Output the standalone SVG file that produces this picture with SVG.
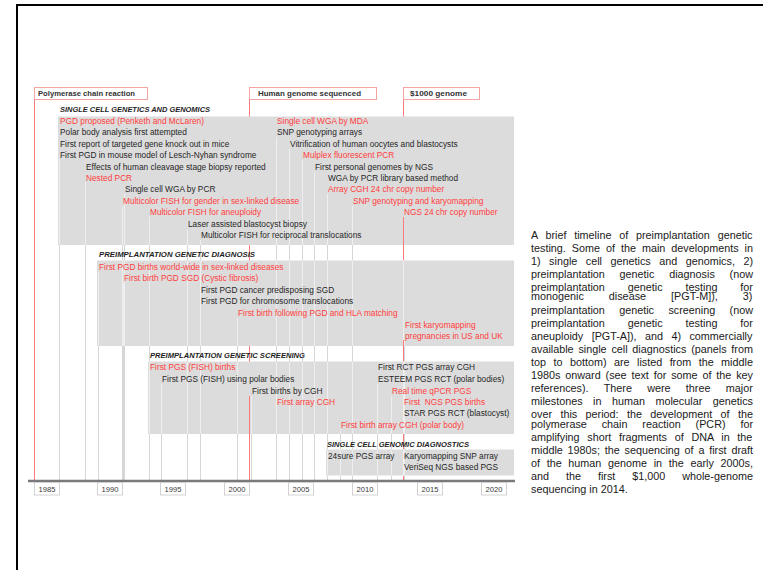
<svg xmlns="http://www.w3.org/2000/svg" xmlns:xlink="http://www.w3.org/1999/xlink" width="763" height="570" viewBox="0 0 763 570">
<style>
text{font-family:"Liberation Sans",Arial,sans-serif}
.e{font-size:8.3px;fill:#262626}
.r{fill:#ff3c3c}
.h{font-size:7.4px;font-weight:bold;font-style:italic;fill:#1e1e1e}
.m{font-size:7.6px;font-weight:bold;fill:#333}
.y{font-size:7.6px;fill:#3a3a3a;text-anchor:middle}
.c{font-size:10.8px;fill:#1a1a1a}
.p{fill:#dcdcdc}
.mb{fill:#fff;stroke:#f5a3a3;stroke-width:1}
.yb{fill:#fff;stroke:#c8c8c8;stroke-width:0.8}
.ml{stroke:#ff7a7a;stroke-width:1;fill:none}
</style>
<defs>
<g id="droplines" fill="none">
<path d="M59.5 159V480M85.5 182V480M122.5 206V480M124.5 194V480M149.5 217V480M187.5 229V480M200.5 240V480M276.5 137V480M289.5 149V480M302.5 160V480M314.5 172V480M327.5 194V480M352.5 206V480M403.5 217V480"/>
<path d="M98.5 272V480M123.5 283V480M200.5 306V480M237.5 318V480M404.5 341V480"/>
<path d="M149.5 372V480M161.5 384V480M251.5 396V480M276.5 407V480M377.5 384V480M391.5 396V480M403.5 418V480M340.5 430V480"/>
<path d="M327.5 461V480M403.5 472V480"/>
</g>
<clipPath id="panelclip">
<rect x="58" y="116.5" width="456" height="128.5"/>
<rect x="97" y="260.5" width="417" height="85.5"/>
<rect x="148" y="361.5" width="366" height="72.5"/>
<rect x="326" y="449.5" width="188" height="26"/>
</clipPath>
</defs>
<rect x="0" y="0" width="763" height="570" fill="#fff"/>
<path d="M17 570V5H763" fill="none" stroke="#000" stroke-width="2"/>

<g id="connectors">
<use xlink:href="#droplines" stroke="#d6d6d6" stroke-width="1"/>
<path class="ml" d="M249.5 99V480M403.5 99V480"/>
</g>

<g id="panels">
<rect class="p" x="58" y="116.5" width="456" height="128.5"/>
<rect class="p" x="97" y="260.5" width="417" height="85.5"/>
<rect class="p" x="148" y="361.5" width="366" height="72.5"/>
<rect class="p" x="326" y="449.5" width="188" height="26"/>
</g>

<g id="connectors-over">
<use xlink:href="#droplines" stroke="#eeeeee" stroke-width="1" clip-path="url(#panelclip)"/>
<path class="ml" d="M34.5 99V480M403.5 217V246M403.5 340V347M249.5 396V434"/>
</g>

<g id="axis">
<line x1="28" y1="481" x2="515" y2="481" stroke="#7a7a7a" stroke-width="2.5"/>
</g>

<g id="years">
<g id="y1985"><rect class="yb" x="34.5" y="482.5" width="25" height="12.5"/><text class="y" x="47" y="492">1985</text></g>
<g id="y1990"><rect class="yb" x="97.5" y="482.5" width="25" height="12.5"/><text class="y" x="110" y="492">1990</text></g>
<g id="y1995"><rect class="yb" x="160.5" y="482.5" width="25" height="12.5"/><text class="y" x="173" y="492">1995</text></g>
<g id="y2000"><rect class="yb" x="224.5" y="482.5" width="25" height="12.5"/><text class="y" x="237" y="492">2000</text></g>
<g id="y2005"><rect class="yb" x="288.5" y="482.5" width="25" height="12.5"/><text class="y" x="301" y="492">2005</text></g>
<g id="y2010"><rect class="yb" x="352.5" y="482.5" width="25" height="12.5"/><text class="y" x="365" y="492">2010</text></g>
<g id="y2015"><rect class="yb" x="417.5" y="482.5" width="25" height="12.5"/><text class="y" x="430" y="492">2015</text></g>
<g id="y2020"><rect class="yb" x="481.5" y="482.5" width="25" height="12.5"/><text class="y" x="494" y="492">2020</text></g>
</g>

<g id="ms-pcr"><rect class="mb" x="34.5" y="87.5" width="113" height="12"/><text class="m" x="38" y="96.3" textLength="97" lengthAdjust="spacingAndGlyphs">Polymerase chain reaction</text></g>
<g id="ms-genome"><rect class="mb" x="249.5" y="87.5" width="127" height="12"/><text class="m" x="258" y="96.3" textLength="103" lengthAdjust="spacingAndGlyphs">Human genome sequenced</text></g>
<g id="ms-1000"><rect class="mb" x="403.5" y="87.5" width="76" height="12"/><text class="m" x="410" y="96.3" textLength="57" lengthAdjust="spacingAndGlyphs">$1000 genome</text></g>

<g id="hdr1"><text class="h" x="60" y="112" textLength="150" lengthAdjust="spacingAndGlyphs">SINGLE CELL GENETICS AND GENOMICS</text></g>
<g id="hdr2"><text class="h" x="99" y="257" textLength="156" lengthAdjust="spacingAndGlyphs">PREIMPLANTATION GENETIC DIAGNOSIS</text></g>
<g id="hdr3"><text class="h" x="150" y="358" textLength="155" lengthAdjust="spacingAndGlyphs">PREIMPLANTATION GENETIC SCREENING</text></g>
<g id="hdr4"><text class="h" x="327" y="446.5" textLength="142" lengthAdjust="spacingAndGlyphs">SINGLE CELL GENOMIC DIAGNOSTICS</text></g>

<g id="ev1"><text class="e r" x="60" y="124">PGD proposed (Penketh and McLaren)</text></g>
<g id="ev2"><text class="e" x="60" y="135.4">Polar body analysis first attempted</text></g>
<g id="ev3"><text class="e" x="60" y="146.8">First report of targeted gene knock out in mice</text></g>
<g id="ev4"><text class="e" x="60" y="158.2">First PGD in mouse model of Lesch-Nyhan syndrome</text></g>
<g id="ev5"><text class="e" x="86" y="169.6">Effects of human cleavage stage biopsy reported</text></g>
<g id="ev6"><text class="e r" x="86" y="181">Nested PCR</text></g>
<g id="ev7"><text class="e" x="125" y="192.4">Single cell WGA by PCR</text></g>
<g id="ev8"><text class="e r" x="123" y="203.8">Multicolor FISH for gender in sex-linked disease</text></g>
<g id="ev9"><text class="e r" x="150" y="215.2">Multicolor FISH for aneuploidy</text></g>
<g id="ev10"><text class="e" x="188" y="226.6">Laser assisted blastocyst biopsy</text></g>
<g id="ev11"><text class="e" x="201" y="238">Multicolor FISH for reciprocal translocations</text></g>
<g id="ev12"><text class="e r" x="277" y="124">Single cell WGA by MDA</text></g>
<g id="ev13"><text class="e" x="277" y="135.4">SNP genotyping arrays</text></g>
<g id="ev14"><text class="e" x="290" y="146.8">Vitrification of human oocytes and blastocysts</text></g>
<g id="ev15"><text class="e r" x="303" y="158.2">Mulplex fluorescent PCR</text></g>
<g id="ev16"><text class="e" x="315" y="169.6">First personal genomes by NGS</text></g>
<g id="ev17"><text class="e" x="328" y="181">WGA by PCR library based method</text></g>
<g id="ev18"><text class="e r" x="328" y="192.4">Array CGH 24 chr copy number</text></g>
<g id="ev19"><text class="e r" x="353" y="203.8">SNP genotyping and karyomapping</text></g>
<g id="ev20"><text class="e r" x="404" y="215.2">NGS 24 chr copy number</text></g>

<g id="pgd1"><text class="e r" x="99" y="269.5">First PGD births world-wide in sex-linked diseases</text></g>
<g id="pgd2"><text class="e r" x="124" y="281">First birth PGD SGD (Cystic fibrosis)</text></g>
<g id="pgd3"><text class="e" x="201" y="292.5">First PGD cancer predisposing SGD</text></g>
<g id="pgd4"><text class="e" x="201" y="304">First PGD for chromosome translocations</text></g>
<g id="pgd5"><text class="e r" x="238" y="315.5">First birth following PGD and HLA matching</text></g>
<g id="pgd6"><text class="e r" x="405" y="327.5">First karyomapping</text><text class="e r" x="405" y="339">pregnancies in US and UK</text></g>

<g id="pgs1"><text class="e r" x="150" y="370">First PGS (FISH) births</text></g>
<g id="pgs2"><text class="e" x="162" y="382">First PGS (FISH) using polar bodies</text></g>
<g id="pgs3"><text class="e" x="252" y="393.5">First births by CGH</text></g>
<g id="pgs4"><text class="e r" x="277" y="405">First array CGH</text></g>
<g id="pgs5"><text class="e" x="378" y="370">First RCT PGS array CGH</text></g>
<g id="pgs6"><text class="e" x="378" y="382">ESTEEM PGS RCT (polar bodies)</text></g>
<g id="pgs7"><text class="e r" x="392" y="393.5">Real time qPCR PGS</text></g>
<g id="pgs8"><text class="e r" x="404" y="405">First&#160; NGS PGS births</text></g>
<g id="pgs9"><text class="e" x="404" y="416">STAR PGS RCT (blastocyst)</text></g>
<g id="pgs10"><text class="e r" x="341" y="427.5">First birth array CGH (polar body)</text></g>

<g id="dx1"><text class="e" x="328" y="458.5">24sure PGS array</text></g>
<g id="dx2"><text class="e" x="404" y="458.5">Karyomapping SNP array</text></g>
<g id="dx3"><text class="e" x="404" y="470">VeriSeq NGS based PGS</text></g>

<g id="caption">
<text class="c" x="531" y="238.5" word-spacing="4.8">A brief timeline of preimplantation genetic</text>
<text class="c" x="531" y="251.6" word-spacing="2.98">testing. Some of the main developments in</text>
<text class="c" x="531" y="264.7" word-spacing="5.49">1) single cell genetics and genomics, 2)</text>
<text class="c" x="531" y="277.8" word-spacing="11.77">preimplantation genetic diagnosis (now</text>
<text class="c" x="531" y="290.9" word-spacing="19.97">preimplantation genetic testing for</text>
<text class="c" x="531" y="300.4" word-spacing="22">monogenic disease [PGT-M]), 3)</text>
<text class="c" x="531" y="313.5" word-spacing="11.37">preimplantation genetic screening (now</text>
<text class="c" x="531" y="326.6" word-spacing="19.97">preimplantation genetic testing for</text>
<text class="c" x="531" y="339.7" word-spacing="5.4">aneuploidy [PGT-A]), and 4) commercially</text>
<text class="c" x="531" y="352.8" word-spacing="1.78">available single cell diagnostics (panels from</text>
<text class="c" x="531" y="365.9" word-spacing="4.44">top to bottom) are listed from the middle</text>
<text class="c" x="531" y="379" word-spacing="1.86">1980s onward (see text for some of the key</text>
<text class="c" x="531" y="392.1" word-spacing="12.28">references). There were three major</text>
<text class="c" x="531" y="405.2" word-spacing="7.48">milestones in human molecular genetics</text>
<text class="c" x="531" y="418.3" word-spacing="5.38">over this period: the development of the</text>
<text class="c" x="531" y="427.8" word-spacing="11.84">polymerase chain reaction (PCR) for</text>
<text class="c" x="531" y="440.9" word-spacing="4.69">amplifying short fragments of DNA in the</text>
<text class="c" x="531" y="454" word-spacing="1.79">middle 1980s; the sequencing of a first draft</text>
<text class="c" x="531" y="467.1" word-spacing="3.67">of the human genome in the early 2000s,</text>
<text class="c" x="531" y="480.2" word-spacing="13.93">and the first $1,000 whole-genome</text>
<text class="c" x="531" y="493.3">sequencing in 2014.</text>
</g>
</svg>
